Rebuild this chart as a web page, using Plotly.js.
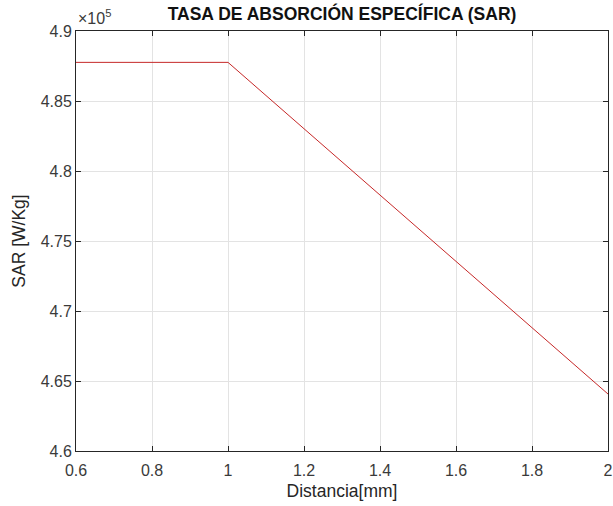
<!DOCTYPE html>
<html>
<head>
<meta charset="utf-8">
<script src="https://cdn.plot.ly/plotly-3.0.1.min.js"></script>
<style>html,body{margin:0;padding:0;background:#fff;}#chart{width:613px;height:506px;}</style>
</head>
<body>
<div id="chart"></div>
<script>
// Distance (mm)
var distancia = [0.6, 0.8, 1.0, 1.2, 1.4, 1.6, 1.8, 2.0];
// SAR values in units of 1e5 W/Kg
var sar = [4.8776, 4.8776, 4.8776, 4.8302, 4.7828, 4.7354, 4.6881, 4.6407];
var xTicks = [0.6, 0.8, 1, 1.2, 1.4, 1.6, 1.8, 2];
var xTickText = ['0.6', '0.8', '1', '1.2', '1.4', '1.6', '1.8', '2'];
var yTicks = [4.6, 4.65, 4.7, 4.75, 4.8, 4.85, 4.9];
var yTickText = ['4.6', '4.65', '4.7', '4.75', '4.8', '4.85', '4.9'];

var font = 'Liberation Sans, Arial, sans-serif';
var axisCommon = {
  showline: true, mirror: 'ticks', linecolor: '#262626', linewidth: 1,
  ticks: 'inside', ticklen: 5, tickcolor: '#262626', tickwidth: 1,
  showgrid: true, gridcolor: '#e3e3e3', gridwidth: 1, zeroline: false,
  tickfont: {family: font, size: 16, color: '#3a3a3a'}
};

var trace = {
  x: distancia, y: sar, type: 'scatter', mode: 'lines',
  line: {color: '#c62828', width: 1}, hoverinfo: 'none'
};

var layout = {
  width: 613, height: 506,
  margin: {l: 76, r: 5, t: 31, b: 55},
  paper_bgcolor: '#ffffff', plot_bgcolor: '#ffffff',
  showlegend: false,
  title: {text: '<b>TASA DE ABSORCIÓN ESPECÍFICA (SAR)</b>', font: {family: font, size: 17.5, color: '#111'},
          x: 0.5, xref: 'paper', y: 1 - 14 / 506, yref: 'container', xanchor: 'center', yanchor: 'middle'},
  xaxis: Object.assign({}, axisCommon, {
    range: [0.6, 2], tickvals: xTicks, ticktext: xTickText, ticklabelstandoff: 5,
    title: {text: 'Distancia[mm]', font: {family: font, size: 17.5, color: '#262626'}, standoff: 6}
  }),
  yaxis: Object.assign({}, axisCommon, {
    range: [4.6, 4.9], tickvals: yTicks, ticktext: yTickText,
    title: {text: 'SAR [W/Kg]', font: {family: font, size: 17.5, color: '#262626'}, standoff: 10}
  }),
  annotations: [{
    text: '×10<sup>5</sup>', xref: 'paper', yref: 'paper', x: 0, y: 1, xanchor: 'left', yanchor: 'bottom',
    xshift: 0, yshift: 2, showarrow: false, font: {family: font, size: 16, color: '#3a3a3a'}
  }]
};

Plotly.newPlot('chart', [trace], layout, {staticPlot: true, displayModeBar: false});
</script>
</body>
</html>
